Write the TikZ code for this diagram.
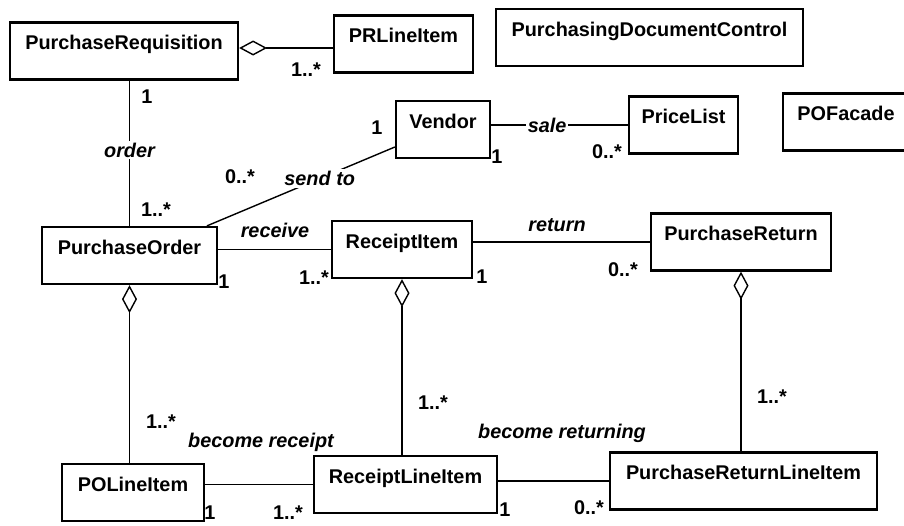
\documentclass[tikz,border=0pt]{standalone}
\usepackage{fontspec}
\setmainfont{Liberation Sans}
\usetikzlibrary{arrows.meta, positioning}
\tikzset{
  every picture/.style={font=\fontsize{11.3}{13}\selectfont, line width=0.8pt},
  cls/.style={draw, line width=1.3pt, minimum width=#1, inner xsep=3pt, inner ysep=0.07cm,
              text height=0.47cm, text depth=0.53cm, font=\fontsize{11.3}{13}\selectfont\bfseries},
  agg/.style={{Diamond[open, length=5.6mm, width=3mm]}-},
  role/.style={font=\fontsize{11.3}{13}\selectfont\bfseries\itshape, fill=white, inner sep=1pt},
  mult/.style={font=\fontsize{11.3}{13}\selectfont\bfseries, inner sep=1pt},
}
\begin{document}
\begin{tikzpicture}[x=0.02cm, y=-0.02cm]
  \useasboundingbox (0,0) rectangle (904,525);
  % classes
  \node[cls=4.56cm] (pr)   at (124,51)    {PurchaseRequisition};
  \node[cls=2.78cm] (prli) at (403.5,44)  {PRLineItem};
  \node[cls=6.14cm] (pdc)  at (649.5,37.5){PurchasingDocumentControl};
  \node[cls=1.88cm] (ven)  at (443,129.5) {Vendor};
  \node[cls=2.18cm] (pl)   at (683.5,125) {PriceList};
  \node[cls=2.52cm] (pof)  at (846,122)   {POFacade};
  \node[cls=3.50cm] (po)   at (129.5,255.5) {PurchaseOrder};
  \node[cls=2.80cm] (ri)   at (402,249.5) {ReceiptItem};
  \node[cls=3.60cm] (prt)  at (741,242)   {PurchaseReturn};
  \node[cls=2.84cm] (poli) at (133,492.5) {POLineItem};
  \node[cls=3.66cm] (rli)  at (405.5,484.5) {ReceiptLineItem};
  \node[cls=5.34cm] (prl)  at (743.5,481) {PurchaseReturnLineItem};
  % aggregations
  \draw[agg] (pr.east |- prli.west) ++(0,4) coordinate (prA) -- (prli.west |- prA);
  \draw[agg] (po.south) -- (po.south |- poli.north);
  \draw[agg] (ri.south) -- (ri.south |- rli.north);
  \draw[agg] (prt.south) -- (prt.south |- prl.north);
  % associations
  \draw (pr.south -| po.north) -- node[role, pos=0.48] (lorder) {order} (po.north);
  \draw ([yshift=-0.35cm]ven.west) -- node[role, pos=0.4] (lsend) {send to} ([xshift=1.55cm]po.north);
  \draw (ven.east |- pl.west) -- node[role, pos=0.41] (lsale) {sale} (pl.west);
  \draw (po.east |- ri.west) -- (ri.west);
  \draw (ri.east |- prt.west) -- (prt.west);
  \draw (poli.east |- rli.west) -- (rli.west);
  \draw (rli.east |- prl.west) -- (prl.west);
  \node[role] (lrecv) at (275,230) {receive};
  \node[role] (lret)  at (557,225) {return};
  \node[role] (lbr)   at (261,442) {become receipt};
  \node[role] (lbrt)  at (562,433) {become returning};
  % multiplicities
  \foreach \p/\t [count=\i] in {{(147,97)}/1, {(306,70)}/1..*, {(156,210)}/1..*, {(377,128)}/1,
      {(240,177)}/0..*, {(497,157)}/1, {(607,152)}/0..*, {(224,282)}/1, {(314,278)}/1..*,
      {(482,277)}/1, {(623,270)}/0..*, {(161,422)}/1..*, {(433,403)}/1..*, {(772,397)}/1..*,
      {(210,513)}/1, {(288,513)}/1..*, {(505,510)}/1, {(589,508)}/0..*}
    \node[mult] (m\i) at \p {\t};
\end{tikzpicture}
\end{document}
